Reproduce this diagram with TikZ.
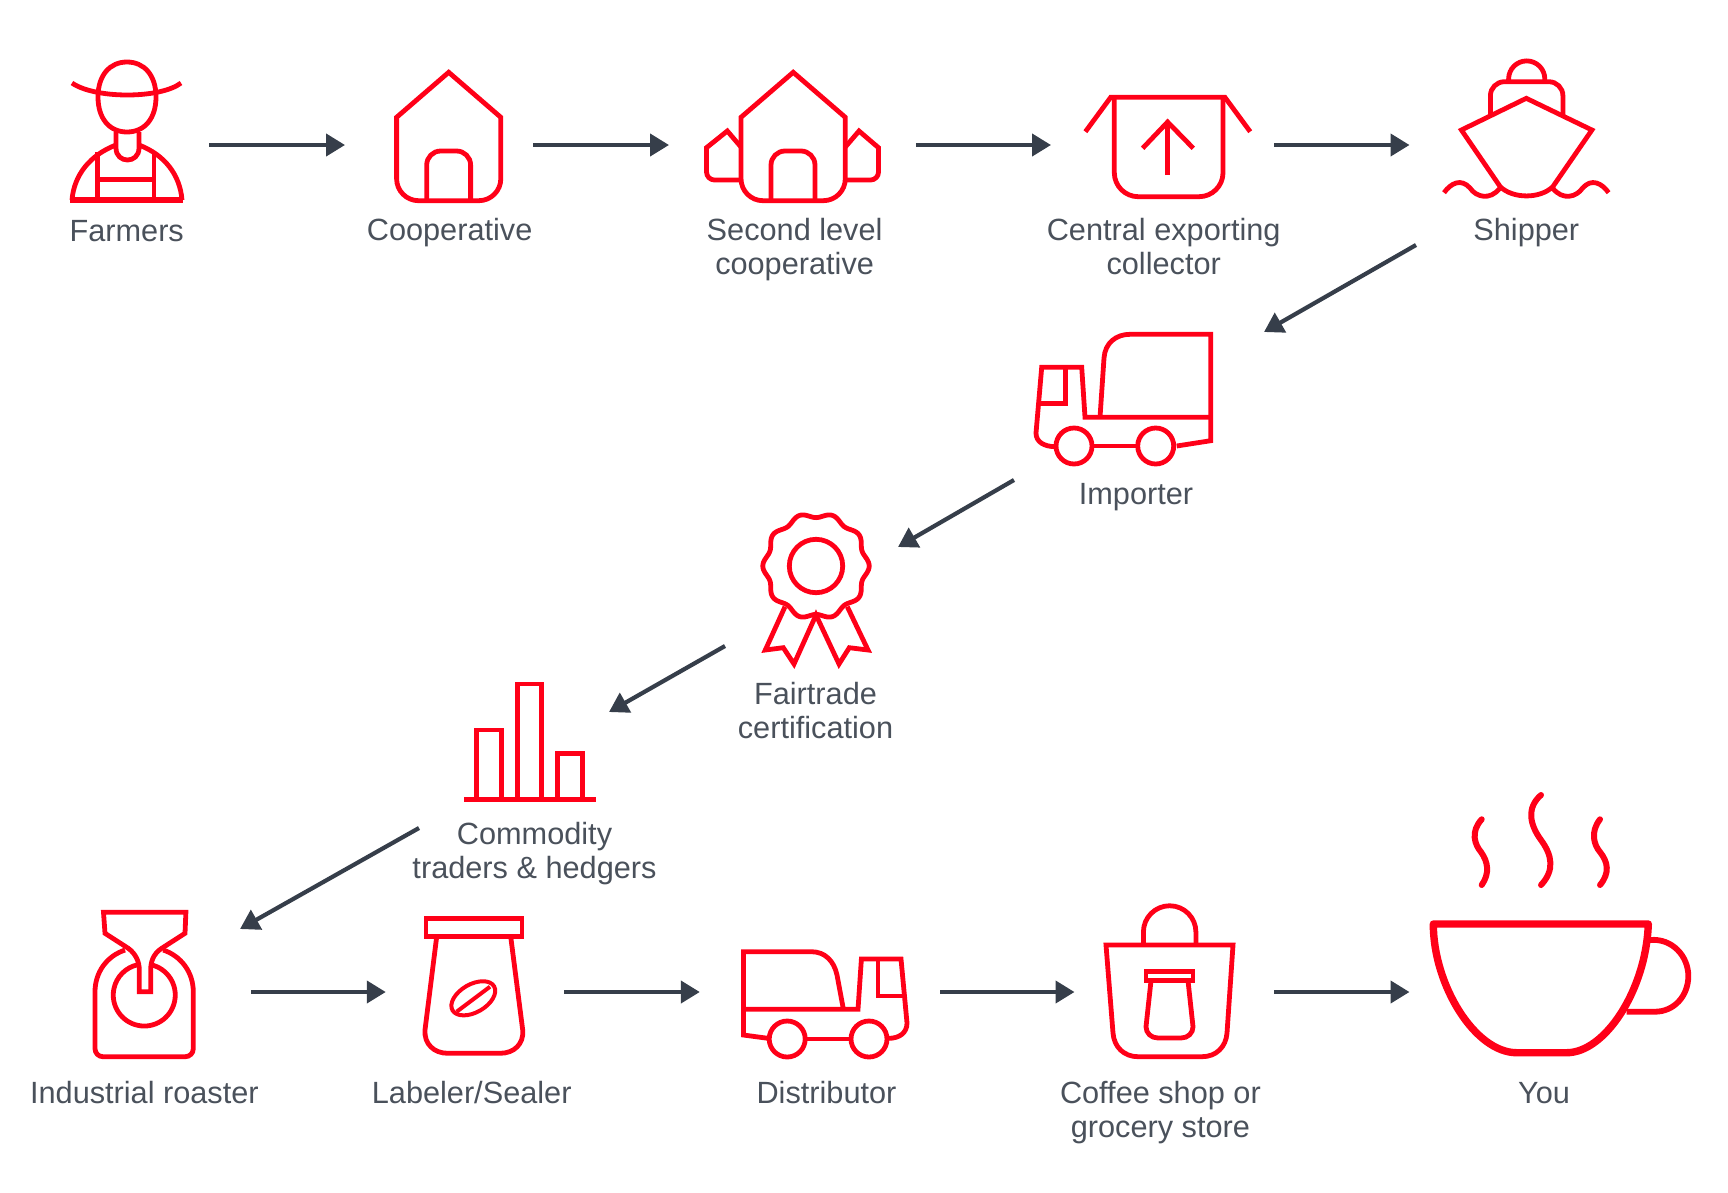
\documentclass[tikz,border=0pt]{standalone}
\usepackage{fontspec}
\setmainfont{Liberation Sans}
\usetikzlibrary{positioning,arrows.meta}
\definecolor{cIcon}{HTML}{FF0018}
\definecolor{cText}{HTML}{4A515B}
\definecolor{cFlow}{HTML}{363E4A}
\tikzset{
  icon/.style={draw=cIcon,line width=4.8pt,line join=miter},
  iconbox/.style={inner sep=0pt,outer sep=0pt,minimum width=#1},
  flowline/.style={draw=cFlow,line width=4.2pt,-{Triangle[length=19pt,width=22pt]}},
  stationlabel/.style={text=cText,align=center,inner sep=0pt,font=\fontsize{30.7}{34}\selectfont}
}
\begin{document}
\begin{tikzpicture}[x=1pt,y=-1pt]
  \useasboundingbox (0,0) rectangle (1728,1192);

  % stations: the boxes are empty, they only carry the connector ends
  \node[iconbox=149.4pt,minimum height=100pt] (farmers) at (134.7,145) {};
  \node[iconbox=188.4pt,minimum height=100pt] (coop) at (439.2,145) {};
  \node[iconbox=246.8pt,minimum height=100pt] (second) at (792.4,145) {};
  \node[iconbox=223pt,minimum height=100pt] (central) at (1162.5,145) {};
  \node[iconbox=204pt,minimum height=200pt] (shipper) at (1518,145) {};
  \node[iconbox=250pt,minimum height=148pt] (importer) at (1139,406) {};
  \node[iconbox=173pt,minimum height=99pt] (fairtrade) at (811.5,596.5) {};
  \node[iconbox=190pt,minimum height=116pt] (commodity) at (514,770) {};
  \node[iconbox=180pt,minimum height=126pt] (roaster) at (150,992) {};
  \node[iconbox=178.5pt,minimum height=100pt] (labeler) at (475,992) {};
  \node[iconbox=240.2pt,minimum height=100pt] (distributor) at (819.9,992) {};
  \node[iconbox=199.5pt,minimum height=100pt] (coffee) at (1174.25,992) {};
  \node[iconbox=310.5pt,minimum height=100pt] (you) at (1564.75,992) {};

  % labels
  \node[stationlabel] (farmersLabel) at (126.7,231.5) {Farmers};
  \node[stationlabel] (coopLabel) at (449.6,232.6) {Cooperative};
  \node[stationlabel] (secondLabel) at (794.6,249.6) {Second level\\cooperative};
  \node[stationlabel] (centralLabel) at (1163.7,246.3) {Central exporting\\collector};
  \node[stationlabel] (shipperLabel) at (1526.3,232.6) {Shipper};
  \node[stationlabel] (importerLabel) at (1136,497.2) {Importer};
  \node[stationlabel] (fairtradeLabel) at (815.5,710.2) {Fairtrade\\certification};
  \node[stationlabel] (commodityLabel) at (534.5,853.5) {Commodity\\traders \& hedgers};
  \node[stationlabel] (roasterLabel) at (144.4,1093) {Industrial roaster};
  \node[stationlabel] (labelerLabel) at (471.7,1093) {Labeler/Sealer};
  \node[stationlabel] (distributorLabel) at (826.5,1093) {Distributor};
  \node[stationlabel] (coffeeLabel) at (1160.4,1112.5) {Coffee shop or\\grocery store};
  \node[stationlabel] (youLabel) at (1544,1093) {You};

  % connectors
  \draw[flowline] (farmers.east) -- (coop.west);
  \draw[flowline] (coop.east) -- (second.west);
  \draw[flowline] (second.east) -- (central.west);
  \draw[flowline,shorten >=6.5pt] (central.east) -- (shipper.west);
  \draw[flowline] (shipper.south west) -- (importer.north east);
  \draw[flowline] (importer.south west) -- (fairtrade.north east);
  \draw[flowline] (fairtrade.south west) -- (commodity.north east);
  \draw[flowline] (commodity.south west) -- (roaster.north east);
  \draw[flowline,shorten <=11pt] (roaster.east) -- (labeler.west);
  \draw[flowline] (labeler.east) -- (distributor.west);
  \draw[flowline] (distributor.east) -- (coffee.west);
  \draw[flowline] (coffee.east) -- (you.west);

  % farmer
  \draw[icon] (98,97) .. controls (98,75) and (110,62) .. (127,62) .. controls (144,62) and (156,75) .. (156,97)
    .. controls (156,118) and (145,132) .. (127,132) .. controls (109,132) and (98,118) .. (98,97) -- cycle;
  \draw[icon] (72,83) .. controls (95,99) and (160,99) .. (181,83);
  \draw[icon] (116,132) -- (116,148) .. controls (116,164) and (139,164) .. (139,148) -- (139,132);
  \draw[icon] (72,200) .. controls (74,175) and (90,155) .. (116,145);
  \draw[icon] (182,200) .. controls (180,175) and (165,155) .. (139,145);
  \draw[icon] (97.6,152) -- (97.6,200);
  \draw[icon] (154,152) -- (154,200);
  \draw[icon] (97.6,179.3) -- (154,179.3);
  \draw[icon,line width=6pt] (70,199.7) -- (182.6,199.7);

  % cooperative
  \draw[icon] (396.6,117.3) -- (448.7,72.3) -- (500.8,117.3) -- (500.8,178.7)
    arc[start angle=0,end angle=-90,radius=22pt] -- (418.6,200.7)
    arc[start angle=270,end angle=180,radius=22pt] -- cycle;
  \draw[icon,rounded corners=14pt] (426.7,200.7) -- (426.7,151) -- (470.6,151) -- (470.6,200.7);

  % second level cooperative
  \draw[icon] (741,117.3) -- (793.2,72.3) -- (845.3,117.3) -- (845.3,178.7)
    arc[start angle=0,end angle=-90,radius=22pt] -- (763,200.7)
    arc[start angle=270,end angle=180,radius=22pt] -- cycle;
  \draw[icon,rounded corners=14pt] (771,200.7) -- (771,151) -- (815,151) -- (815,200.7);
  \draw[icon] (741,147) -- (727.3,131) -- (706.5,147.7) -- (706.5,172)
    arc[start angle=180,end angle=270,radius=8pt] -- (741,180);
  \draw[icon] (845.3,147) -- (859,131) -- (878.5,147.7) -- (878.5,172)
    arc[start angle=0,end angle=-90,radius=8pt] -- (845.3,180);

  % central exporting collector
  \draw[icon] (1085.4,131.7) -- (1110.7,97.3) -- (1224.9,97.3) -- (1250.2,131.7);
  \draw[icon] (1114.3,97.3) -- (1114.3,172.7) arc[start angle=180,end angle=270,radius=24pt]
    -- (1199,196.7) arc[start angle=270,end angle=360,radius=24pt] -- (1223,97.3);
  \draw[icon] (1167.6,175) -- (1167.6,123);
  \draw[icon] (1142.6,148.3) -- (1167.6,122) -- (1193.3,148.3);

  % shipper
  \draw[icon,rounded corners=14pt] (1490.4,115) -- (1490.4,81.7) -- (1562.9,81.7) -- (1562.9,115);
  \draw[icon] (1508.6,81.7) -- (1508.6,79) arc[start angle=180,end angle=0,radius=18.1pt] -- (1544.8,81.7);
  \draw[icon] (1526.3,98.3) -- (1591.9,130) -- (1552.8,186.7) .. controls (1540,199) and (1513,199) .. (1500.2,186.7)
    -- (1461.4,130) -- cycle;
  \draw[icon] (1444,192.7) .. controls (1451,183) and (1461,178) .. (1470,188)
    .. controls (1476,197) and (1490,201) .. (1500,188);
  \draw[icon] (1608.6,192.7) .. controls (1601.6,183) and (1591.6,178) .. (1582.6,188)
    .. controls (1576.6,197) and (1562.6,201) .. (1552.6,188);

  % importer truck
  \draw[icon] (1100,417.3) -- (1104,358) .. controls (1105,343) and (1116,334.3) .. (1130,334.3)
    -- (1210.7,334.3) -- (1210.7,440.7) -- (1176.7,446);
  \draw[icon] (1210.7,417.3) -- (1085,417.3) -- (1081.7,367.3) -- (1041.7,367.3) -- (1036,433)
    .. controls (1036,442) and (1044,446.7) .. (1056,446.7);
  \draw[icon] (1065.7,367.3) -- (1065.7,403.3) -- (1040,403.3);
  \draw[icon] (1074,446) circle[radius=18pt];
  \draw[icon] (1155.7,446) circle[radius=18pt];
  \draw[icon] (1092,446) -- (1137.7,446);

  % fairtrade rosette
  \draw[icon] plot[domain=0:360,samples=181] ({816+(50.8+2.4*cos(10*\x))*cos(\x)},{566-(50.8+2.4*cos(10*\x))*sin(\x)}) -- cycle;
  \draw[icon] (816,566) circle[radius=26.7pt];
  \draw[icon] (785,606.7) -- (765.3,650) -- (783.3,647.7) -- (794,664) -- (816,615)
    -- (839,664) -- (849.3,647.7) -- (868,650) -- (847.3,606.7);

  % commodity bars
  \draw[icon] (476.7,799.7) -- (476.7,730) -- (501.7,730) -- (501.7,799.7);
  \draw[icon] (517.3,799.7) -- (517.3,684) -- (541.7,684) -- (541.7,799.7);
  \draw[icon] (557.7,799.7) -- (557.7,753.3) -- (582.3,753.3) -- (582.3,799.7);
  \draw[icon] (464,799.7) -- (596,799.7);

  % roaster
  \draw[icon] (103.5,912.3) -- (185.9,912.3) -- (185,933.3) -- (161.7,948.3)
    .. controls (153,954) and (150.7,962) .. (150.7,970) -- (150.7,991.7) -- (139.3,991.7) -- (139.3,970)
    .. controls (139.3,962) and (136,954) .. (128.3,948.3) -- (105,933.3) -- cycle;
  \draw[icon] (125,950) .. controls (107,956) and (95,972) .. (95,992) -- (95,1048.7)
    arc[start angle=180,end angle=270,radius=8pt] -- (185.3,1056.7)
    arc[start angle=270,end angle=360,radius=8pt] -- (193.3,992)
    .. controls (193.3,972) and (181,956) .. (163.3,950);
  \draw[icon] (150.7,964.7) arc[start angle=78,end angle=-258,radius=31pt];

  % labeler jar
  \draw[icon] (426,918.5) rectangle (522,936.5);
  \draw[icon] (436.7,936.5) -- (425,1030) .. controls (424,1044) and (434,1053.3) .. (448,1053.3)
    -- (500,1053.3) .. controls (514,1053.3) and (524,1044) .. (522.7,1030) -- (510.7,936.5);
  \draw[icon,line width=4pt,rotate around={30:(473.3,998.3)}] (473.3,998.3) ellipse[x radius=24pt,y radius=14pt];
  \draw[icon,line width=4pt] (456.7,1011.7) -- (490,986.7);

  % distributor truck
  \draw[icon] (843.4,1009.3) -- (837,975) .. controls (834,961) and (825,951.7) .. (811.4,951.7)
    -- (743.4,951.7) -- (743.4,1035) -- (768,1038.3);
  \draw[icon] (743.4,1009.3) -- (858,1009.3) -- (861.4,959) -- (901,959) -- (907,1023)
    .. controls (907,1033) and (899,1038.3) .. (889,1038.3);
  \draw[icon] (878,959) -- (878,996) -- (902.8,996);
  \draw[icon] (787.2,1039) circle[radius=18pt];
  \draw[icon] (869,1039) circle[radius=18pt];
  \draw[icon] (805.2,1039) -- (851,1039);

  % coffee shop bag
  \draw[icon] (1143.4,945) -- (1143.4,932) arc[start angle=180,end angle=0,radius=26.25pt] -- (1195.9,945);
  \draw[icon] (1106,945) -- (1233,945) -- (1227,1033) .. controls (1226,1047) and (1216,1056.7) .. (1202,1056.7)
    -- (1138,1056.7) .. controls (1124,1056.7) and (1114,1047) .. (1113,1033) -- cycle;
  \draw[icon] (1146,971.7) rectangle (1193,980.7);
  \draw[icon] (1151,980.7) -- (1146,1026.7) .. controls (1146,1033) and (1151,1038) .. (1158,1038)
    -- (1181,1038) .. controls (1188,1038) and (1193,1033) .. (1193,1026.7) -- (1188,980.7);

  % cup
  \draw[icon,line width=7.4pt,line join=round] (1433.3,924) -- (1648.3,924)
    .. controls (1646,990) and (1605,1052.7) .. (1566.7,1052.7) -- (1516.7,1052.7)
    .. controls (1475,1052.7) and (1433.3,985) .. (1433.3,924) -- cycle;
  \draw[icon,line width=5.8pt] (1650,940) .. controls (1672,938) and (1688.3,956) .. (1688.3,976)
    .. controls (1688.3,996) and (1674,1011.7) .. (1655,1011.7) -- (1626.7,1011.7);
  \draw[icon,line width=6pt,line cap=round] (1481.7,819.3) .. controls (1470,832) and (1475,845) .. (1481,852)
    .. controls (1488,862) and (1490,873) .. (1481.7,885);
  \draw[icon,line width=6pt,line cap=round] (1541,795) .. controls (1526,808) and (1530,825) .. (1541,840)
    .. controls (1552,855) and (1555,870) .. (1541,885);
  \draw[icon,line width=6pt,line cap=round] (1600,819.3) .. controls (1590,832) and (1594,845) .. (1600,852)
    .. controls (1608,862) and (1610,873) .. (1600,885);
\end{tikzpicture}
\end{document}
